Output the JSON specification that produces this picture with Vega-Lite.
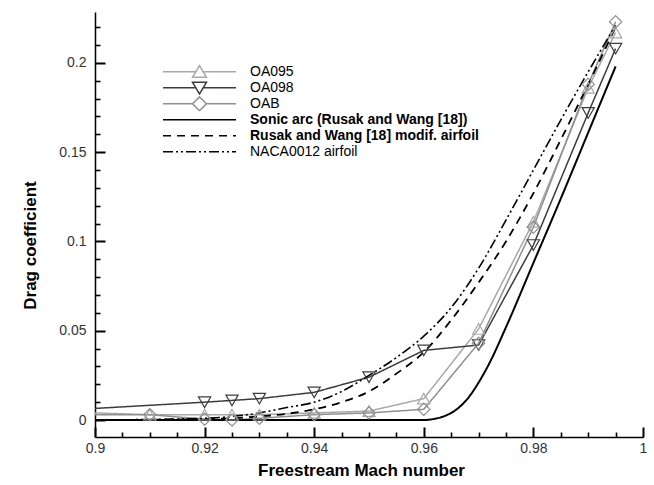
{
  "$schema": "https://vega.github.io/schema/vega-lite/v6.json",
  "width": 548,
  "height": 425,
  "autosize": "none",
  "padding": {"left": 95, "top": 12, "right": 11, "bottom": 48},
  "background": "white",
  "config": {
    "view": {"stroke": null},
    "font": "Liberation Sans",
    "axis": {"grid": false, "labelFlush": false, "labelOverlap": false, "domainColor": "black", "domainWidth": 1.5}
  },
  "resolve": {"axis": {"x": "independent", "y": "independent"}},
  "data": {
    "values": [
      {"series": "OA095", "M": 0.9, "Cd": 0.004},
      {"series": "OA095", "M": 0.91, "Cd": 0.003},
      {"series": "OA095", "M": 0.92, "Cd": 0.003},
      {"series": "OA095", "M": 0.925, "Cd": 0.003},
      {"series": "OA095", "M": 0.93, "Cd": 0.003},
      {"series": "OA095", "M": 0.94, "Cd": 0.004},
      {"series": "OA095", "M": 0.95, "Cd": 0.005},
      {"series": "OA095", "M": 0.96, "Cd": 0.012},
      {"series": "OA095", "M": 0.97, "Cd": 0.051},
      {"series": "OA095", "M": 0.98, "Cd": 0.111},
      {"series": "OA095", "M": 0.99, "Cd": 0.186},
      {"series": "OA095", "M": 0.995, "Cd": 0.217},
      {"series": "OA098", "M": 0.9, "Cd": 0.0065},
      {"series": "OA098", "M": 0.92, "Cd": 0.010},
      {"series": "OA098", "M": 0.925, "Cd": 0.011},
      {"series": "OA098", "M": 0.93, "Cd": 0.012},
      {"series": "OA098", "M": 0.94, "Cd": 0.0155},
      {"series": "OA098", "M": 0.95, "Cd": 0.024},
      {"series": "OA098", "M": 0.96, "Cd": 0.039},
      {"series": "OA098", "M": 0.97, "Cd": 0.042},
      {"series": "OA098", "M": 0.98, "Cd": 0.098},
      {"series": "OA098", "M": 0.99, "Cd": 0.172},
      {"series": "OA098", "M": 0.995, "Cd": 0.208},
      {"series": "OAB", "M": 0.9, "Cd": 0.003},
      {"series": "OAB", "M": 0.91, "Cd": 0.003},
      {"series": "OAB", "M": 0.92, "Cd": 0.0005},
      {"series": "OAB", "M": 0.925, "Cd": 0.0},
      {"series": "OAB", "M": 0.93, "Cd": 0.001},
      {"series": "OAB", "M": 0.94, "Cd": 0.003},
      {"series": "OAB", "M": 0.95, "Cd": 0.004},
      {"series": "OAB", "M": 0.96, "Cd": 0.006},
      {"series": "OAB", "M": 0.97, "Cd": 0.043},
      {"series": "OAB", "M": 0.98, "Cd": 0.108},
      {"series": "OAB", "M": 0.99, "Cd": 0.188},
      {"series": "OAB", "M": 0.995, "Cd": 0.223},
      {"series": "Sonic arc (Rusak and Wang [18])", "M": 0.9, "Cd": 0.0},
      {"series": "Sonic arc (Rusak and Wang [18])", "M": 0.96, "Cd": 0.0},
      {"series": "Sonic arc (Rusak and Wang [18])", "M": 0.962, "Cd": 0.0007},
      {"series": "Sonic arc (Rusak and Wang [18])", "M": 0.964, "Cd": 0.0025},
      {"series": "Sonic arc (Rusak and Wang [18])", "M": 0.966, "Cd": 0.006},
      {"series": "Sonic arc (Rusak and Wang [18])", "M": 0.968, "Cd": 0.012},
      {"series": "Sonic arc (Rusak and Wang [18])", "M": 0.97, "Cd": 0.021},
      {"series": "Sonic arc (Rusak and Wang [18])", "M": 0.972, "Cd": 0.032},
      {"series": "Sonic arc (Rusak and Wang [18])", "M": 0.975, "Cd": 0.052},
      {"series": "Sonic arc (Rusak and Wang [18])", "M": 0.98, "Cd": 0.088},
      {"series": "Sonic arc (Rusak and Wang [18])", "M": 0.985, "Cd": 0.124},
      {"series": "Sonic arc (Rusak and Wang [18])", "M": 0.99, "Cd": 0.161},
      {"series": "Sonic arc (Rusak and Wang [18])", "M": 0.995, "Cd": 0.198},
      {"series": "Rusak and Wang [18] modif. airfoil", "M": 0.9, "Cd": 0.0},
      {"series": "Rusak and Wang [18] modif. airfoil", "M": 0.92, "Cd": 0.0005},
      {"series": "Rusak and Wang [18] modif. airfoil", "M": 0.93, "Cd": 0.002},
      {"series": "Rusak and Wang [18] modif. airfoil", "M": 0.935, "Cd": 0.0035},
      {"series": "Rusak and Wang [18] modif. airfoil", "M": 0.94, "Cd": 0.006},
      {"series": "Rusak and Wang [18] modif. airfoil", "M": 0.945, "Cd": 0.010},
      {"series": "Rusak and Wang [18] modif. airfoil", "M": 0.95, "Cd": 0.016},
      {"series": "Rusak and Wang [18] modif. airfoil", "M": 0.955, "Cd": 0.026},
      {"series": "Rusak and Wang [18] modif. airfoil", "M": 0.96, "Cd": 0.038},
      {"series": "Rusak and Wang [18] modif. airfoil", "M": 0.965, "Cd": 0.056},
      {"series": "Rusak and Wang [18] modif. airfoil", "M": 0.97, "Cd": 0.077},
      {"series": "Rusak and Wang [18] modif. airfoil", "M": 0.975, "Cd": 0.100},
      {"series": "Rusak and Wang [18] modif. airfoil", "M": 0.98, "Cd": 0.127},
      {"series": "Rusak and Wang [18] modif. airfoil", "M": 0.985, "Cd": 0.157},
      {"series": "Rusak and Wang [18] modif. airfoil", "M": 0.99, "Cd": 0.188},
      {"series": "Rusak and Wang [18] modif. airfoil", "M": 0.995, "Cd": 0.220},
      {"series": "NACA0012 airfoil", "M": 0.9, "Cd": 0.0},
      {"series": "NACA0012 airfoil", "M": 0.92, "Cd": 0.001},
      {"series": "NACA0012 airfoil", "M": 0.93, "Cd": 0.004},
      {"series": "NACA0012 airfoil", "M": 0.935, "Cd": 0.007},
      {"series": "NACA0012 airfoil", "M": 0.94, "Cd": 0.010},
      {"series": "NACA0012 airfoil", "M": 0.945, "Cd": 0.016},
      {"series": "NACA0012 airfoil", "M": 0.95, "Cd": 0.025},
      {"series": "NACA0012 airfoil", "M": 0.955, "Cd": 0.035},
      {"series": "NACA0012 airfoil", "M": 0.96, "Cd": 0.047},
      {"series": "NACA0012 airfoil", "M": 0.965, "Cd": 0.063},
      {"series": "NACA0012 airfoil", "M": 0.97, "Cd": 0.085},
      {"series": "NACA0012 airfoil", "M": 0.975, "Cd": 0.112},
      {"series": "NACA0012 airfoil", "M": 0.98, "Cd": 0.140},
      {"series": "NACA0012 airfoil", "M": 0.985, "Cd": 0.168},
      {"series": "NACA0012 airfoil", "M": 0.99, "Cd": 0.195},
      {"series": "NACA0012 airfoil", "M": 0.995, "Cd": 0.221}
    ]
  },
  "encoding": {
    "color": {
      "field": "series", "type": "nominal",
      "scale": {
        "domain": ["OA095", "OA098", "OAB", "Sonic arc (Rusak and Wang [18])", "Rusak and Wang [18] modif. airfoil", "NACA0012 airfoil"],
        "range": ["#a8a8a8", "#3c3c3c", "#8f8f8f", "#000000", "#000000", "#000000"]
      },
      "legend": {
        "title": null,
        "orient": "none",
        "legendX": 67,
        "legendY": 52,
        "padding": 0,
        "symbolSize": 5329,
        "symbolStrokeWidth": 1.5,
        "clipHeight": 15.6,
        "rowPadding": 0,
        "labelOffset": 13,
        "labelFontSize": 14,
        "labelFont": "Liberation Sans",
        "labelColor": "black",
        "labelLimit": 400,
        "encode": {
          "symbols": {"update": {
            "shape": {"signal": "datum.value === 'OA095' ? 'M -1 0 L -0.1 0 M 0.1 0 L 1 0 M 0 -0.17 L 0.19 0.15 L -0.19 0.15 Z' : datum.value === 'OA098' ? 'M -1 0 L -0.1 0 M 0.1 0 L 1 0 M 0 0.17 L 0.19 -0.15 L -0.19 -0.15 Z' : datum.value === 'OAB' ? 'M -1 0 L -0.19 0 M 0.19 0 L 1 0 M -0.19 0 L 0 -0.19 L 0.19 0 L 0 0.19 Z' : 'M -1 0 L 1 0'"},
            "fill": {"value": "transparent"},
            "strokeWidth": {"value": 1.5}
          }},
          "labels": {"update": {
            "fontWeight": {"signal": "indexof(['Sonic arc (Rusak and Wang [18])', 'Rusak and Wang [18] modif. airfoil'], datum.label) >= 0 ? 'bold' : 'normal'"}
          }}
        }
      }
    },
    "strokeDash": {
      "field": "series", "type": "nominal",
      "scale": {
        "domain": ["OA095", "OA098", "OAB", "Sonic arc (Rusak and Wang [18])", "Rusak and Wang [18] modif. airfoil", "NACA0012 airfoil"],
        "range": [[1, 0], [1, 0], [1, 0], [1, 0], [8, 6], [10, 3, 2, 3, 2, 3]]
      }
    }
  },
  "layer": [
    {
      "transform": [{"filter": "indexof(['OA095', 'OA098', 'OAB'], datum.series) >= 0"}],
      "mark": {"type": "line", "strokeWidth": 1.5},
      "encoding": {
        "x": {
          "field": "M", "type": "quantitative",
          "scale": {"domain": [0.9, 1.0], "nice": false, "zero": false},
          "axis": {
            "orient": "bottom",
            "title": "Freestream Mach number",
            "values": [0.9, 0.92, 0.94, 0.96, 0.98, 1.0],
            "format": "~g",
            "domain": false,
            "tickColor": "#000000", "tickWidth": 2,
            "tickSize": 10,
            "offset": -10,
            "labelPadding": 4,
            "labelFontSize": 14, "labelColor": "#333", "labelFont": "Liberation Sans",
            "titleFontSize": 17, "titleFontWeight": "bold", "titleFont": "Liberation Sans", "titleColor": "black",
            "titleX": 266, "titleY": 43, "titleBaseline": "middle", "titleAlign": "center"
          }
        },
        "y": {
          "field": "Cd", "type": "quantitative",
          "scale": {"domain": [-0.0095, 0.2285], "nice": false, "zero": false},
          "axis": {
            "orient": "left",
            "title": "Drag coefficient",
            "values": [0, 0.05, 0.1, 0.15, 0.2],
            "format": "~g",
            "domain": false,
            "tickColor": "#000000", "tickWidth": 2,
            "tickSize": 10,
            "offset": -10,
            "labelPadding": 9,
            "labelFontSize": 14, "labelColor": "#333", "labelFont": "Liberation Sans",
            "titleFontSize": 17, "titleFontWeight": "bold", "titleFont": "Liberation Sans", "titleColor": "black",
            "titleX": -75, "titleY": 233, "titleAngle": -90, "titleBaseline": "middle", "titleAlign": "center"
          }
        }
      }
    },
    {
      "transform": [{"filter": "indexof(['OA095', 'OA098', 'OAB'], datum.series) < 0"}],
      "mark": {"type": "line", "interpolate": "monotone"},
      "encoding": {
        "x": {
          "field": "M", "type": "quantitative",
          "axis": {
            "orient": "bottom",
            "title": null,
            "values": [0.905, 0.91, 0.915, 0.925, 0.93, 0.935, 0.945, 0.95, 0.955, 0.965, 0.97, 0.975, 0.985, 0.99, 0.995],
            "labels": false,
            "domain": false,
            "tickColor": "#000000", "tickWidth": 1.6,
            "tickSize": 5,
            "offset": -5
          }
        },
        "y": {
          "field": "Cd", "type": "quantitative",
          "axis": {
            "orient": "left",
            "title": null,
            "values": [0.01, 0.02, 0.03, 0.04, 0.06, 0.07, 0.08, 0.09, 0.11, 0.12, 0.13, 0.14, 0.16, 0.17, 0.18, 0.19, 0.21, 0.22],
            "labels": false,
            "domain": false,
            "tickColor": "#000000", "tickWidth": 1.6,
            "tickSize": 5,
            "offset": -5
          }
        },
        "strokeWidth": {
          "field": "series", "type": "nominal", "legend": null,
          "scale": {"domain": ["Sonic arc (Rusak and Wang [18])", "Rusak and Wang [18] modif. airfoil", "NACA0012 airfoil"], "range": [2, 1.6, 1.4]}
        }
      }
    },
    {
      "transform": [{"filter": "indexof(['OA095', 'OA098', 'OAB'], datum.series) >= 0 && datum.M > 0.9"}],
      "mark": {"type": "point", "filled": false, "size": 150, "strokeWidth": 1.2, "opacity": 1},
      "encoding": {
        "x": {
          "field": "M", "type": "quantitative",
          "axis": {"orient": "bottom", "title": null, "ticks": false, "labels": false, "domain": true}
        },
        "y": {
          "field": "Cd", "type": "quantitative",
          "axis": {"orient": "left", "title": null, "ticks": false, "labels": false, "domain": true}
        },
        "shape": {
          "field": "series", "type": "nominal", "legend": null,
          "scale": {"domain": ["OA095", "OA098", "OAB"], "range": ["triangle-up", "triangle-down", "diamond"]}
        },
        "strokeDash": {"value": [1, 0]}
      }
    }
  ]
}
